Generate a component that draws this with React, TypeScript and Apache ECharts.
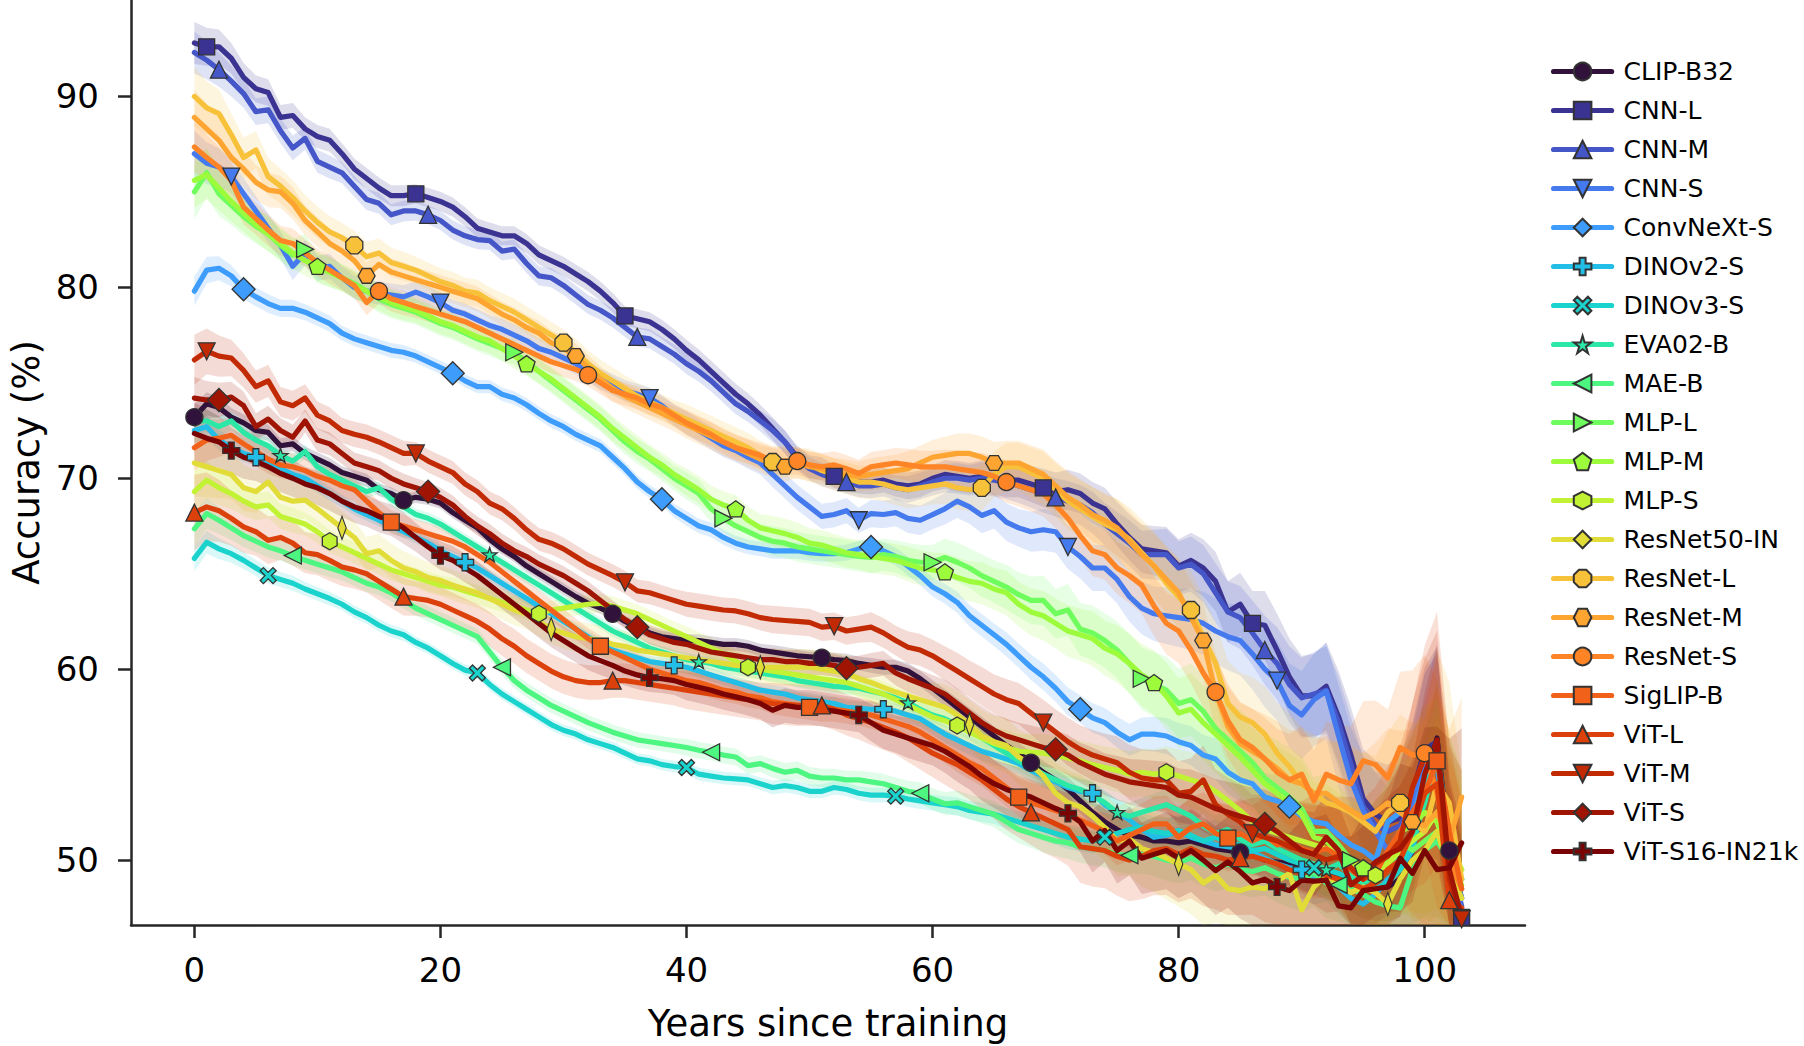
import React, { useEffect, useRef } from "react";
import * as echarts from "echarts";

// ---- data -------------------------------------------------------------
const YEARS = Array.from({ length: 104 }, (_, i) => i);
const X_TICKS = [0, 20, 40, 60, 80, 100];
const Y_TICKS = [50, 60, 70, 80, 90];

const MODELS = [
  "CLIP-B32", "CNN-L", "CNN-M", "CNN-S", "ConvNeXt-S", "DINOv2-S", "DINOv3-S",
  "EVA02-B", "MAE-B", "MLP-L", "MLP-M", "MLP-S", "ResNet50-IN", "ResNet-L",
  "ResNet-M", "ResNet-S", "SigLIP-B", "ViT-L", "ViT-M", "ViT-S", "ViT-S16-IN21k",
];

const CLIP_B32 = [
  73.2, 73.9, 73.7, 73.2, 72.9, 72.5, 72.4, 71.7, 71.8, 71.3,
  71.0, 70.7, 70.3, 70.1, 69.9, 69.4, 69.2, 68.85, 69.0, 68.9,
  68.7, 68.2, 67.8, 67.4, 66.8, 66.3, 65.9, 65.4, 65.0, 64.6,
  64.2, 63.8, 63.45, 63.2, 62.9, 62.5, 62.2, 61.9, 61.7, 61.6,
  61.5, 61.5, 61.4, 61.3, 61.3, 61.2, 61.0, 60.9, 60.8, 60.7,
  60.65, 60.6, 60.5, 60.45, 60.3, 60.2, 60.1, 60.1, 59.9, 59.5,
  59.0, 58.5, 58.0, 57.5, 57.0, 56.5, 56.0, 55.6, 55.1, 54.6,
  54.2, 53.7, 53.1, 52.5, 52.0, 51.6, 51.3, 51.2, 51.0, 51.0,
  50.9, 51.0, 50.8, 50.6, 50.5, 50.4, 50.3, 50.0, 49.9, 49.8,
  49.7, 49.5, 49.3, 49.2, 48.8, 48.5, 48.5, 48.6, 49.0, 50.5,
  54.0, 56.4, 50.5, 48.0,
];
const CNN_L = [
  92.8, 92.6, 92.6, 92.0, 91.0, 90.4, 90.2, 88.9, 89.0, 88.3,
  87.9, 87.7, 87.0, 86.2, 85.7, 85.2, 84.8, 84.8, 84.9, 84.7,
  84.5, 84.2, 83.7, 83.1, 82.9, 82.7, 82.7, 82.3, 81.7, 81.4,
  81.1, 80.7, 80.3, 79.8, 79.2, 78.5, 78.35, 78.2, 77.8, 77.3,
  76.7, 76.2, 75.6, 75.0, 74.4, 73.9, 73.3, 72.6, 71.9, 71.1,
  70.6, 70.5, 70.1, 69.9, 69.8, 69.8, 69.9, 69.7, 69.6, 69.7,
  70.0, 70.2, 70.1, 70.0, 70.1, 70.0, 69.9, 69.9, 69.7, 69.5,
  69.3, 69.4, 69.2, 68.7, 68.4, 67.6, 66.9, 66.3, 66.2, 66.1,
  65.4, 65.7, 65.3, 64.6, 63.0, 63.4, 62.4, 62.3, 61.0, 59.6,
  58.6, 58.6, 59.1, 57.5, 55.5, 53.2, 52.4, 52.0, 52.2, 53.5,
  55.8, 56.2, 49.0, 47.0,
];
const CNN_M = [
  92.3, 91.9, 91.4, 90.8, 90.15, 89.2, 89.3, 88.2, 87.3, 87.8,
  86.6, 86.3, 86.0, 85.3, 84.6, 84.4, 83.8, 84.0, 84.0, 83.8,
  83.5, 83.0, 82.7, 82.5, 82.45, 81.9, 82.0, 81.25, 80.6, 80.5,
  80.1, 79.6, 79.1, 78.8, 78.4, 77.9, 77.4, 77.3, 76.9, 76.5,
  76.0, 75.6, 75.1, 74.5, 73.9, 73.5, 73.0, 72.5, 71.9, 71.0,
  70.5, 70.2, 70.0, 69.8, 69.6, 69.6, 69.7, 69.5, 69.4, 69.6,
  69.8, 70.0, 70.0, 69.9, 70.0, 69.9, 69.8, 69.6, 69.4, 69.2,
  69.0, 68.8, 68.6, 68.2, 67.6, 67.1, 66.6, 66.0, 66.0, 66.0,
  65.3, 65.5, 65.0, 64.0, 63.0, 62.7, 61.9, 61.0, 60.3, 59.2,
  58.5, 58.7, 58.9, 57.2, 55.0, 52.8, 51.8, 51.5, 51.8, 53.0,
  55.5, 55.8, 50.0, 47.6,
];
const CNN_S = [
  87.0, 86.5, 86.3, 85.8, 84.9, 84.0, 83.1, 82.2, 81.1, 81.8,
  81.0, 81.1, 80.5, 80.0, 79.8, 79.7, 79.6, 79.5, 79.75, 79.5,
  79.2, 78.8, 78.6, 78.3, 78.0, 77.8, 77.5, 77.2, 76.8, 76.6,
  76.3, 76.0, 75.6, 75.2, 74.9, 74.6, 74.4, 74.2, 73.8, 73.3,
  72.9, 72.5, 72.1, 71.7, 71.45, 71.1, 70.8, 70.2, 69.6, 69.0,
  68.5, 68.0, 68.1, 68.3, 67.8, 68.15, 68.1, 68.2, 67.9, 67.8,
  68.1, 68.4, 68.8, 68.5, 68.05, 68.3, 67.7, 67.4, 67.2, 67.3,
  67.2, 66.4, 65.9, 65.3, 65.3, 64.7, 63.8, 63.2, 62.9, 62.8,
  62.7, 62.6, 62.4, 62.0, 61.7, 61.5, 60.8, 60.0, 59.4, 58.1,
  57.6, 58.4, 58.85, 56.5, 54.2, 52.6, 51.5, 50.5, 51.5, 53.0,
  55.0, 55.5, 49.0, 47.5,
];
const CONVNEXT_S = [
  79.8, 80.9, 81.0, 80.6, 79.9, 79.5, 79.15, 78.9, 78.9, 78.7,
  78.4, 78.1, 77.6, 77.3, 77.1, 76.9, 76.7, 76.6, 76.4, 76.1,
  75.8, 75.5, 75.1, 74.8, 74.8, 74.4, 74.2, 73.85, 73.4, 73.0,
  72.7, 72.3, 72.0, 71.7, 71.1, 70.5, 69.8, 69.3, 68.9, 68.3,
  67.9, 67.5, 67.3, 66.9, 66.6, 66.4, 66.3, 66.2, 66.2, 66.2,
  66.1, 66.05, 66.05, 66.1, 66.3, 66.4, 66.2, 65.9, 65.4, 64.9,
  64.3, 63.95, 63.5, 62.8, 62.3, 61.8, 61.3, 60.7, 60.1, 59.6,
  59.0, 58.3, 57.9, 57.45, 57.2, 56.7, 56.3, 56.6, 56.6, 56.5,
  56.2, 56.0, 55.5, 55.3, 54.6, 54.2, 54.0, 53.3, 53.1, 52.8,
  52.3, 52.0, 51.9, 51.3, 50.8, 50.5, 50.0, 52.0, 52.5, 52.2,
  54.5, 55.0, 50.0, 48.0,
];
const DINOV2_S = [
  72.5, 72.7, 72.0, 71.6, 71.3, 71.1, 70.8, 70.5, 70.2, 70.0,
  69.6, 69.2, 68.8, 68.4, 68.1, 67.8, 67.5, 67.2, 66.9, 66.6,
  66.2, 65.9, 65.6, 65.3, 64.9, 64.5, 64.1, 63.7, 63.3, 62.9,
  62.5, 62.1, 61.7, 61.3, 61.0, 60.8, 60.6, 60.4, 60.3, 60.2,
  60.1, 59.9, 59.7, 59.5, 59.3, 59.1, 58.9, 58.8, 58.7, 58.5,
  58.4, 58.3, 58.2, 58.0, 57.95, 57.9, 57.9, 57.8, 57.6, 57.4,
  57.0, 56.6, 56.3, 56.0, 55.7, 55.5, 55.3, 55.05, 54.7, 54.4,
  54.1, 53.8, 53.6, 53.5, 52.9, 52.5, 52.1, 51.6, 51.2, 51.3,
  51.5, 51.2, 51.0, 50.8, 50.7, 50.6, 50.4, 50.1, 49.8, 49.6,
  49.5, 49.0, 49.2, 48.6, 48.0, 47.7, 48.2, 49.0, 49.5, 50.5,
  53.5, 55.5, 50.5, 48.5,
];
const DINOV3_S = [
  65.8, 66.65, 66.3, 66.05, 65.7, 65.3, 64.9, 64.7, 64.5, 64.2,
  63.95, 63.7, 63.4, 63.0, 62.7, 62.3, 62.0, 61.8, 61.4, 61.1,
  60.7, 60.3, 59.95, 59.8, 59.2, 58.7, 58.3, 57.9, 57.5, 57.1,
  56.8, 56.6, 56.3, 56.1, 55.9, 55.6, 55.3, 55.2, 55.0, 54.9,
  54.85, 54.5, 54.4, 54.3, 54.25, 54.2, 54.0, 53.8, 53.9, 53.8,
  53.6, 53.6, 53.8, 53.7, 53.5, 53.4, 53.4, 53.35, 53.2, 53.1,
  53.0, 52.9, 52.8, 52.6, 52.5, 52.4, 52.2, 52.0, 51.8, 51.6,
  51.4, 51.2, 51.1, 51.0, 51.2, 51.4, 51.6, 51.7, 51.5, 51.4,
  51.55, 51.3, 51.0, 51.2, 50.9, 50.8, 50.5, 50.6, 50.3, 50.0,
  49.8, 49.6, 49.5, 49.3, 49.0, 48.8, 48.5, 48.8, 49.5, 51.0,
  54.0, 56.0, 50.5, 49.0,
];
const EVA02_B = [
  73.0, 73.0, 72.7, 73.0, 72.4, 72.0, 71.7, 71.2, 70.9, 71.4,
  70.6, 70.2, 69.9, 69.6, 69.3, 69.5, 68.9, 68.5, 68.1, 67.9,
  67.6, 67.2, 66.8, 66.4, 66.0, 65.6, 65.2, 64.8, 64.4, 64.0,
  63.6, 63.2, 62.8, 62.4, 62.0, 61.7, 61.4, 61.1, 60.9, 60.7,
  60.5, 60.4, 60.3, 60.1, 60.0, 59.9, 59.8, 59.7, 59.6, 59.4,
  59.3, 59.2, 59.1, 59.05, 59.0, 58.85, 58.7, 58.5, 58.25, 57.9,
  57.6, 57.4, 57.1, 56.8, 56.4, 56.0, 55.6, 55.2, 54.9, 54.5,
  54.2, 53.9, 53.7, 53.4, 53.0, 52.5, 52.3, 52.5, 52.7, 52.9,
  52.6, 52.3, 51.8, 51.4, 51.6, 51.1, 50.8, 51.0, 50.6, 50.3,
  50.0, 49.8, 49.5, 49.8, 49.2, 48.8, 49.2, 49.8, 50.2, 51.0,
  53.0, 55.5, 50.0, 49.0,
];
const MAE_B = [
  67.35, 68.15, 67.8, 67.4, 67.0, 66.7, 66.4, 66.2, 65.95, 65.7,
  65.5, 65.3, 65.1, 64.8, 64.5, 64.3, 64.0, 63.6, 63.2, 62.9,
  62.6, 62.3, 62.0, 61.7, 60.9, 60.1, 59.4, 58.9, 58.5, 58.1,
  57.8, 57.5, 57.2, 56.95, 56.7, 56.5, 56.3, 56.2, 56.1, 56.0,
  55.9, 55.75, 55.65, 55.5, 55.4, 54.95, 55.05, 54.8, 54.6, 54.7,
  54.4, 54.3, 54.3, 54.2, 54.2, 54.1, 54.0, 53.8, 53.6, 53.5,
  53.2, 52.95, 53.0, 52.8, 52.6, 52.4, 52.0, 51.6, 51.4, 51.2,
  51.0, 50.9, 50.7, 50.6, 50.5, 50.3, 50.25, 50.3, 50.2, 50.0,
  49.9, 50.1, 49.8, 49.6, 49.8, 49.5, 49.4, 49.6, 49.3, 49.1,
  49.0, 49.3, 48.8, 48.7, 48.5, 48.2, 47.8, 47.6, 47.5, 49.5,
  50.5, 51.0, 50.0, 49.0,
];
const MLP_L = [
  85.0, 86.0, 84.9, 84.3, 83.7, 83.2, 82.8, 82.2, 81.7, 82.0,
  81.0, 80.8, 80.5, 80.2, 79.8, 79.4, 79.1, 78.9, 78.7, 78.4,
  78.1, 77.9, 77.6, 77.3, 77.05, 76.8, 76.6, 76.1, 75.6, 75.1,
  74.6, 74.1, 73.6, 73.1, 72.5, 71.9, 71.4, 71.0, 70.5, 70.0,
  69.6, 69.2, 68.4, 67.9, 67.5, 67.2, 66.9, 66.7, 66.6, 66.4,
  66.3, 66.2, 66.1, 66.0, 65.9, 65.85, 66.0, 65.9, 65.7, 65.6,
  65.6, 65.85, 65.6, 65.3, 64.9, 64.6, 64.3, 63.9, 63.6, 63.6,
  62.9, 63.1, 62.1, 61.9, 61.5, 61.0, 60.3, 59.5, 59.2, 58.9,
  58.2, 58.4, 57.8, 56.9, 56.3, 55.7, 55.1, 54.3, 53.8, 53.3,
  52.7, 51.5, 51.5, 50.8, 50.0, 49.6, 49.2, 50.0, 51.0, 50.5,
  51.0, 51.5, 50.5, 49.5,
];
const MLP_M = [
  85.6, 85.9, 85.2, 84.5, 83.9, 83.3, 82.8, 82.3, 81.8, 81.4,
  81.1, 80.8, 80.5, 80.1, 79.8, 79.5, 79.2, 79.0, 78.8, 78.5,
  78.2, 78.0, 77.7, 77.4, 77.2, 76.8, 76.4, 76.0, 75.6, 75.2,
  74.7, 74.2, 73.7, 73.2, 72.6, 72.1, 71.6, 71.1, 70.7, 70.2,
  69.8, 69.4, 68.9, 68.6, 68.4, 67.8, 67.4, 67.25, 67.1, 66.9,
  66.6, 66.5, 66.3, 66.1, 66.0, 65.9, 65.8, 65.7, 65.5, 65.3,
  65.2, 65.1, 64.8, 64.6, 64.5, 64.2, 64.0, 63.4, 63.0, 62.8,
  62.4, 62.0, 61.8, 61.6, 61.1, 60.8, 60.3, 59.7, 59.3, 58.6,
  57.7, 57.9, 57.2, 56.6, 56.0, 55.4, 54.7, 54.0, 53.5, 53.0,
  52.4, 51.2, 51.0, 50.4, 49.8, 49.6, 49.5, 50.2, 51.5, 51.8,
  52.5, 52.0, 50.0, 48.7,
];
const MLP_S = [
  69.3, 69.9, 69.5, 69.2, 68.8, 68.5, 68.6, 68.0, 67.8, 67.6,
  67.2, 66.7, 66.4, 66.1, 65.8, 65.5, 65.2, 65.0, 64.8, 64.6,
  64.4, 64.3, 64.1, 63.9, 63.7, 63.5, 63.3, 63.1, 62.9, 63.1,
  63.2, 63.3, 63.4, 63.45, 63.3, 63.1, 62.9, 62.6, 62.3, 62.0,
  61.7, 61.4, 61.1, 60.8, 60.4, 60.1, 60.0, 59.9, 59.8, 59.7,
  59.6, 59.5, 59.4, 59.3, 59.1, 58.9, 58.7, 58.4, 58.1, 57.8,
  57.5, 57.3, 57.05, 56.7, 56.4, 56.1, 55.9, 55.7, 55.65, 55.6,
  55.5, 55.35, 55.2, 55.0, 54.85, 54.7, 54.5, 54.6, 54.5, 54.6,
  54.4, 54.2, 54.0, 53.6, 53.1, 52.6, 52.0, 51.6, 51.4, 51.2,
  51.0, 50.8, 50.6, 50.5, 50.0, 49.6, 49.2, 49.8, 50.5, 51.0,
  51.5, 52.5, 51.0, 49.5,
];
const RESNET50_IN = [
  70.8, 70.6, 70.4, 70.2, 69.5, 69.3, 69.8, 69.0, 68.8, 68.85,
  68.4, 67.9, 67.4, 66.9, 66.05, 66.2, 65.7, 65.3, 65.1, 64.8,
  64.65, 64.4, 64.2, 64.0, 63.7, 63.4, 63.1, 62.9, 62.5, 62.1,
  61.9, 61.7, 61.6, 61.5, 61.3, 61.2, 61.0, 60.9, 60.8, 60.7,
  60.6, 60.5, 60.4, 60.3, 60.2, 60.15, 60.1, 60.1, 60.1, 60.1,
  60.1, 60.0, 59.9, 59.8, 59.5, 59.3, 59.05, 58.8, 58.6, 58.4,
  58.2, 58.0, 57.6, 57.1, 56.5, 56.2, 56.0, 55.4, 55.0, 54.4,
  53.5, 53.0, 52.8, 52.3, 51.7, 51.0, 51.1, 50.6, 50.4, 50.1,
  49.8, 49.5, 48.8, 49.2, 48.5, 48.4, 48.6, 48.5, 48.9, 49.3,
  47.4, 48.6, 49.2, 48.7, 48.3, 48.6, 48.3, 47.7, 49.0, 50.0,
  50.5, 51.5, 49.5, 48.0,
];
const RESNET_L = [
  90.0, 89.4, 89.1, 88.0, 86.8, 87.2, 85.8, 85.3, 84.7, 84.0,
  83.4, 82.9, 82.6, 82.2, 81.6, 81.8, 81.3, 81.1, 80.9, 80.6,
  80.3, 80.1, 79.8, 79.7, 79.3, 79.0, 78.7, 78.3, 77.9, 77.5,
  77.1, 76.6, 76.0, 75.5, 75.1, 74.7, 74.3, 74.0, 73.7, 73.4,
  73.1, 72.8, 72.5, 72.2, 71.9, 71.6, 71.2, 70.85, 70.9, 70.8,
  70.7, 70.4, 70.2, 70.0, 69.8, 69.8, 69.7, 69.5, 69.4, 69.5,
  69.6, 69.7, 69.5, 69.4, 69.5, 70.2, 70.6, 70.6, 70.3, 70.0,
  69.4, 68.8, 68.4, 68.0, 67.6, 67.3, 66.8, 66.1, 65.4, 64.5,
  63.8, 63.1, 61.7, 60.3, 58.2, 57.5, 57.2, 56.6, 55.6, 54.9,
  54.0, 53.5, 53.0, 52.8, 52.5, 52.0, 51.5, 52.5, 53.0, 52.0,
  51.5, 54.0, 53.0, 49.0,
];
const RESNET_M = [
  88.9, 88.3, 87.7, 86.8, 86.2, 85.5, 85.1, 85.0, 84.4, 83.5,
  82.9, 82.3, 81.9, 81.4, 80.6, 81.2, 80.8, 80.6, 80.4, 80.2,
  80.0, 79.8, 79.6, 79.4, 79.0, 78.6, 78.3, 77.9, 77.6, 77.1,
  76.8, 76.4, 75.8, 75.2, 74.7, 74.3, 74.0, 73.7, 73.4, 73.1,
  72.8, 72.5, 72.2, 71.9, 71.6, 71.3, 71.0, 70.8, 70.6, 70.8,
  70.6, 70.5, 70.3, 70.2, 70.1, 70.2, 70.3, 70.4, 70.5, 70.8,
  71.1, 71.2, 71.3, 71.3, 71.1, 70.8, 70.8, 70.8, 70.5, 70.2,
  69.6, 69.0, 68.6, 68.1, 67.8, 67.4, 66.7, 66.0, 65.4, 64.7,
  64.0, 62.7, 61.5, 58.8, 57.0, 56.1, 55.7, 55.3, 54.8, 54.2,
  54.0, 53.5, 53.5, 53.0, 52.6, 52.2, 52.5, 53.0, 52.5, 52.0,
  51.8, 52.5, 51.0, 53.3,
];
const RESNET_S = [
  87.35, 86.8, 86.3, 85.6, 84.2, 83.6, 83.0, 82.45, 82.3, 81.8,
  81.3, 80.9, 80.5, 80.1, 79.2, 79.8, 79.4, 79.2, 79.0, 78.8,
  78.6, 78.4, 78.2, 77.9, 77.6, 77.3, 77.0, 76.7, 76.4, 76.1,
  75.9, 75.7, 75.4, 75.0, 74.6, 74.4, 74.2, 73.9, 73.7, 73.3,
  72.9, 72.6, 72.3, 71.9, 71.6, 71.4, 71.2, 70.9, 70.9, 70.9,
  70.7, 70.6, 70.7, 70.5, 70.25, 70.6, 70.7, 70.8, 70.7, 70.6,
  70.6, 70.6, 70.5, 70.4, 70.3, 70.1, 69.8, 69.6, 69.4, 69.2,
  68.6, 67.9, 67.0, 66.2, 66.0, 65.3, 64.9, 64.4, 63.3, 62.4,
  62.0, 61.0, 59.8, 58.8, 57.3, 56.3, 55.9, 55.3, 54.6, 54.2,
  54.5, 53.1, 54.5, 54.2, 54.0, 55.2, 55.0, 54.3, 55.9, 55.5,
  55.6, 53.5, 50.0, 48.5,
];
const SIGLIP_B = [
  71.6, 72.0, 72.1, 72.25, 71.8, 71.4, 71.0, 70.7, 70.6, 70.4,
  70.1, 69.9, 69.6, 69.4, 68.8, 68.2, 67.7, 67.5, 67.3, 67.1,
  66.9, 66.7, 66.4, 66.0, 65.6, 65.1, 64.6, 64.1, 63.6, 63.1,
  62.6, 62.1, 61.6, 61.2, 60.9, 60.6, 60.3, 60.0, 59.8, 59.6,
  59.4, 59.3, 59.1, 58.9, 58.8, 58.6, 58.5, 58.3, 58.2, 58.1,
  58.0, 57.9, 57.9, 57.8, 57.7, 57.6, 57.4, 57.2, 57.0, 56.7,
  56.3, 55.9, 55.5, 55.1, 54.8, 54.3, 53.8, 53.3, 53.0, 52.8,
  52.6, 52.4, 52.1, 51.8, 51.5, 51.0, 51.3, 51.6, 51.9, 51.9,
  51.2, 51.7, 51.9, 51.4, 51.15, 51.4, 51.0, 51.3, 50.8, 50.9,
  50.6, 50.4, 50.6, 50.2, 49.5, 49.0, 49.3, 50.5, 51.5, 52.5,
  53.5, 55.2, 51.5, 48.5,
];
const VIT_L = [
  68.2, 68.5, 68.3, 67.9, 67.45, 67.2, 66.75, 66.9, 66.6, 66.1,
  66.0, 65.7, 65.35, 65.2, 65.0, 64.6, 64.2, 63.8, 63.7, 63.6,
  63.4, 63.1, 62.8, 62.5, 62.1, 61.6, 61.2, 60.7, 60.3, 59.9,
  59.6, 59.4, 59.3, 59.3, 59.4, 59.4, 59.3, 59.2, 59.1, 59.0,
  58.9, 58.8, 58.7, 58.6, 58.5, 58.4, 58.3, 58.2, 58.15, 58.1,
  58.1, 58.1, 57.9, 57.6, 57.4, 57.2, 56.95, 56.7, 56.4, 56.0,
  55.6, 55.3, 55.0, 54.6, 54.2, 53.7, 53.2, 52.8, 52.5, 52.2,
  51.9, 51.6, 50.7, 50.6, 50.5, 50.2, 50.0, 50.2, 50.5, 50.6,
  50.3, 50.6, 50.3, 50.2, 50.0, 50.1, 50.2, 50.0, 49.8, 49.5,
  49.3, 49.5, 49.2, 49.0, 48.8, 48.5, 48.8, 49.5, 50.0, 51.5,
  53.5, 54.0, 47.9, 47.5,
];
const VIT_M = [
  76.2, 76.65, 76.4, 76.3, 75.65, 74.8, 75.1, 74.0, 73.8, 74.2,
  73.3, 73.0, 72.5, 72.3, 72.15, 71.9, 71.6, 71.3, 71.3, 70.9,
  70.6, 70.3, 69.7, 69.3, 68.7, 68.4, 67.9, 67.3, 66.8, 66.6,
  66.3, 65.9, 65.5, 65.2, 64.9, 64.55, 64.1, 64.0, 63.8, 63.6,
  63.4, 63.3, 63.2, 63.1, 63.05, 62.9, 62.7, 62.6, 62.55, 62.5,
  62.45, 62.2, 62.25, 62.0, 62.1, 62.2, 61.9, 61.5, 61.15, 61.0,
  60.7, 60.3, 59.9, 59.5, 59.1, 58.7, 58.4, 58.2, 57.7, 57.2,
  56.7, 56.2, 55.8, 55.5, 55.3, 55.1, 54.6, 54.3, 54.2, 54.2,
  53.5, 53.6, 54.2, 52.9, 52.4, 52.0, 51.4, 51.2, 51.0, 50.7,
  50.5, 50.3, 50.0, 50.2, 49.6, 49.0, 49.8, 50.2, 51.0, 53.8,
  55.4, 56.0, 49.0, 46.9,
];
const VIT_S = [
  74.2, 74.1, 74.1, 74.25, 73.8, 72.7, 73.1, 72.5, 72.15, 73.0,
  72.0, 71.8, 71.3, 70.8, 70.6, 70.4, 70.0, 69.7, 69.5, 69.3,
  69.0, 68.6, 68.0, 67.5, 67.1, 66.6, 66.2, 65.9, 65.5, 65.2,
  64.9, 64.5, 64.1, 63.6, 63.1, 62.6, 62.2, 61.8, 61.6, 61.4,
  61.3, 61.1, 60.9, 60.8, 60.7, 60.6, 60.5, 60.5, 60.4, 60.4,
  60.3, 60.3, 60.2, 60.05, 60.1, 60.2, 60.3, 59.8, 59.5, 59.25,
  59.0, 58.7, 58.2, 57.7, 57.2, 56.8, 56.5, 56.3, 56.1, 55.9,
  55.8, 55.5, 55.1, 54.8, 54.5, 54.3, 54.1, 54.0, 53.9, 53.8,
  53.4, 53.3, 53.0, 52.7, 52.5, 52.3, 52.1, 51.9, 51.5, 51.0,
  50.5, 50.3, 51.2, 50.5, 48.7, 49.2, 49.9, 50.3, 50.6, 51.5,
  54.5, 56.3, 49.5, 47.0,
];
const VIT_S16_IN21K = [
  72.35, 72.1, 71.9, 71.45, 71.1, 70.9, 70.6, 70.25, 70.0, 69.7,
  69.5, 69.2, 68.8, 68.5, 68.3, 68.0, 67.8, 67.4, 66.9, 66.4,
  65.95, 65.7, 65.3, 64.9, 64.4, 63.9, 63.4, 62.9, 62.4, 61.9,
  61.5, 61.1, 60.7, 60.45, 60.2, 59.9, 59.7, 59.55, 59.5, 59.4,
  59.2, 59.05, 58.9, 58.7, 58.55, 58.4, 58.2, 57.85, 58.1, 58.0,
  58.0, 57.9, 57.8, 57.7, 57.6, 57.2, 56.8, 56.6, 56.4, 56.2,
  56.0, 55.7, 55.3, 54.9, 54.4, 54.0, 53.7, 53.5, 53.3, 53.0,
  52.7, 52.45, 52.0, 51.0, 51.55, 50.5, 51.0, 50.1, 50.3, 50.5,
  50.1, 50.5, 50.0, 49.45, 49.9, 49.4, 48.8, 49.0, 48.6, 48.4,
  48.95, 48.9, 48.95, 47.6, 47.5, 48.4, 48.5, 48.6, 50.1, 49.3,
  50.5, 49.5, 49.6, 50.9,
];

const SERIES_VALUES = [
  CLIP_B32, CNN_L, CNN_M, CNN_S, CONVNEXT_S, DINOV2_S, DINOV3_S, EVA02_B,
  MAE_B, MLP_L, MLP_M, MLP_S, RESNET50_IN, RESNET_L, RESNET_M, RESNET_S,
  SIGLIP_B, VIT_L, VIT_M, VIT_S, VIT_S16_IN21K,
];

// Typical half-width of the shaded spread, by year
const SPREAD = [
  1.1, 1.0, 0.9, 0.8, 0.75, 0.7, 0.7, 0.65, 0.65, 0.6,
  0.6, 0.6, 0.55, 0.55, 0.55, 0.55, 0.55, 0.55, 0.5, 0.5,
  0.5, 0.5, 0.5, 0.5, 0.5, 0.5, 0.5, 0.5, 0.5, 0.5,
  0.5, 0.5, 0.5, 0.5, 0.5, 0.5, 0.5, 0.5, 0.5, 0.5,
  0.55, 0.55, 0.55, 0.55, 0.55, 0.55, 0.55, 0.6, 0.6, 0.6,
  0.6, 0.6, 0.6, 0.6, 0.6, 0.65, 0.65, 0.65, 0.7, 0.7,
  0.7, 0.75, 0.8, 0.8, 0.85, 0.85, 0.9, 0.9, 0.95, 1.0,
  1.0, 1.05, 1.05, 1.1, 1.1, 1.15, 1.2, 1.25, 1.3, 1.35,
  1.4, 1.45, 1.5, 1.55, 1.6, 1.65, 1.7, 1.8, 1.9, 2.0,
  2.1, 2.2, 2.3, 2.4, 2.5, 2.6, 2.8, 3.0, 3.3, 3.7,
  4.3, 5.0, 4.5, 4.0,
];
// Relative spread per model
const BAND_SCALE = [
  0.6, 1.0, 1.0, 1.1, 0.7, 0.6, 0.6, 0.6, 0.8, 1.3, 1.3,
  1.0, 1.6, 1.4, 1.3, 1.2, 1.1, 1.8, 1.2, 1.0, 1.5,
];

// ---- styles -----------------------------------------------------------
const COLORS = [
  "#30123b", "#3b3391", "#4456c8", "#4579ee", "#3d9cfc", "#23bee8", "#1bd3cd",
  "#2be8a6", "#4cf680", "#6ffd5e", "#9cfc3c", "#c2f234", "#e1dc37", "#f8c13a",
  "#fea431", "#fe8426", "#f2611a", "#dc410b", "#c22a04", "#9f1402", "#7a0403",
];

const P = {
  triDown: "path://M0,0L10,0L5,10Z",
  triLeft: "path://M10,0L10,10L0,5Z",
  triRight: "path://M0,0L10,5L0,10Z",
  plus: "path://M3.3,0H6.7V3.3H10V6.7H6.7V10H3.3V6.7H0V3.3H3.3Z",
  cross: "path://M2,0L5,3L8,0L10,2L7,5L10,8L8,10L5,7L2,10L0,8L3,5L0,2Z",
  star: "path://M10,0L12.245,6.91L19.51,6.91L13.63,11.18L15.88,18.09L10,13.82L4.12,18.09L6.37,11.18L0.49,6.91L7.755,6.91Z",
  pentagon: "path://M10,0L19.51,6.91L15.88,18.09L4.12,18.09L0.49,6.91Z",
  hexagon: "path://M10,0L18.66,5L18.66,15L10,20L1.34,15L1.34,5Z",
  hexagonFlat: "path://M20,10L15,18.66L5,18.66L0,10L5,1.34L15,1.34Z",
  octagon: "path://M19.24,13.83L13.83,19.24L6.17,19.24L0.76,13.83L0.76,6.17L6.17,0.76L13.83,0.76L19.24,6.17Z",
  thinDiamond: "path://M6,0L12,10L6,20L0,10Z",
};

const MARKERS: [string, number | number[]][] = [
  ["circle", 17], ["rect", 16], ["triangle", 17], [P.triDown, 17],
  ["diamond", 23], [P.plus, 17], [P.cross, 16], [P.star, 15],
  [P.triLeft, 17], [P.triRight, 17], [P.pentagon, 17], [P.hexagon, 17],
  [P.thinDiamond, [14, 23]], [P.octagon, 17], [P.hexagonFlat, 17], ["circle", 17],
  ["rect", 16], ["triangle", 17], [P.triDown, 17], ["diamond", 23], [P.plus, 17],
];

const FONT = "DejaVu Sans";
const Y_MIN = 46.6;
const Y_MAX = 95.05;
const MARK_EVERY = 17;

function buildOption() {
  const clampY = (v: number) => Math.min(Y_MAX, Math.max(Y_MIN, v));
  const series: any[] = [];
  MODELS.forEach((name, k) => {
    const vals = SERIES_VALUES[k];
    const color = COLORS[k];
    const offset = k % MARK_EVERY;
    series.push({
      type: "custom",
      name: name + " spread",
      silent: true,
      clip: true,
      data: [[0, vals[0]]],
      renderItem: (_params: any, api: any) => {
        const up: number[][] = [];
        const lo: number[][] = [];
        for (let i = 0; i < YEARS.length; i++) {
          const h = SPREAD[i] * BAND_SCALE[k];
          up.push(api.coord([YEARS[i], clampY(vals[i] + h)]));
          lo.push(api.coord([YEARS[i], clampY(vals[i] - h)]));
        }
        return {
          type: "polygon",
          shape: { points: up.concat(lo.reverse()) },
          style: { fill: color, opacity: 0.17 },
          silent: true,
        };
      },
    });
    const [symbol, size] = MARKERS[k];
    series.push({
      type: "line",
      name,
      data: YEARS.map((x, i) =>
        (i - offset) % MARK_EVERY === 0 && i >= offset
          ? { value: [x, vals[i]] }
          : { value: [x, vals[i]], symbol: "none" }
      ),
      symbol,
      symbolSize: size,
      symbolKeepAspect: true,
      showSymbol: true,
      clip: true,
      lineStyle: { color, width: 5.2, cap: "round", join: "round" },
      itemStyle: { color, borderColor: "#333333", borderWidth: 1.3 },
      emphasis: { disabled: true },
    });
  });

  const axisLineStyle = { color: "#262626", width: 2.5 };
  return {
    animation: false,
    backgroundColor: "#ffffff",
    grid: { left: 131, right: 279, top: 0, bottom: 121, containLabel: false, outerBoundsMode: "none" },
    legend: {
      data: MODELS,
      orient: "vertical",
      left: 1546,
      top: 54,
      itemWidth: 58,
      itemHeight: 22,
      itemGap: 14,
      lineStyle: { width: 5.2 },
      selectedMode: false,
      textStyle: { fontFamily: FONT, fontSize: 25, color: "#000", padding: [0, 0, 0, 7] },
    },
    xAxis: {
      type: "value",
      min: -5.15,
      max: 108.15,
      name: "Years since training",
      nameLocation: "middle",
      nameGap: 80,
      nameTextStyle: { fontFamily: FONT, fontSize: 37, color: "#000" },
      axisLine: { show: true, onZero: false, lineStyle: axisLineStyle },
      axisTick: { show: true, length: 13, lineStyle: axisLineStyle, customValues: X_TICKS },
      axisLabel: { fontFamily: FONT, fontSize: 34, color: "#000", margin: 28, customValues: X_TICKS },
      splitLine: { show: false },
    },
    yAxis: {
      type: "value",
      min: Y_MIN,
      max: Y_MAX,
      name: "Accuracy (%)",
      nameLocation: "middle",
      nameRotate: 90,
      nameGap: 86,
      nameTextStyle: { fontFamily: FONT, fontSize: 37, color: "#000" },
      axisLine: { show: true, onZero: false, lineStyle: axisLineStyle },
      axisTick: { show: true, length: 13, lineStyle: axisLineStyle, customValues: Y_TICKS },
      axisLabel: { fontFamily: FONT, fontSize: 34, color: "#000", margin: 32, customValues: Y_TICKS },
      splitLine: { show: false },
    },
    series,
  };
}

export default function App() {
  const ref = useRef<HTMLDivElement>(null);
  useEffect(() => {
    const chart = echarts.init(ref.current!, undefined, { renderer: "svg" });
    chart.setOption(buildOption() as any);
    return () => chart.dispose();
  }, []);
  return (
    <div
      ref={ref}
      style={{ position: "fixed", left: 0, top: 0, width: 1804, height: 1046, background: "#fff" }}
    />
  );
}
